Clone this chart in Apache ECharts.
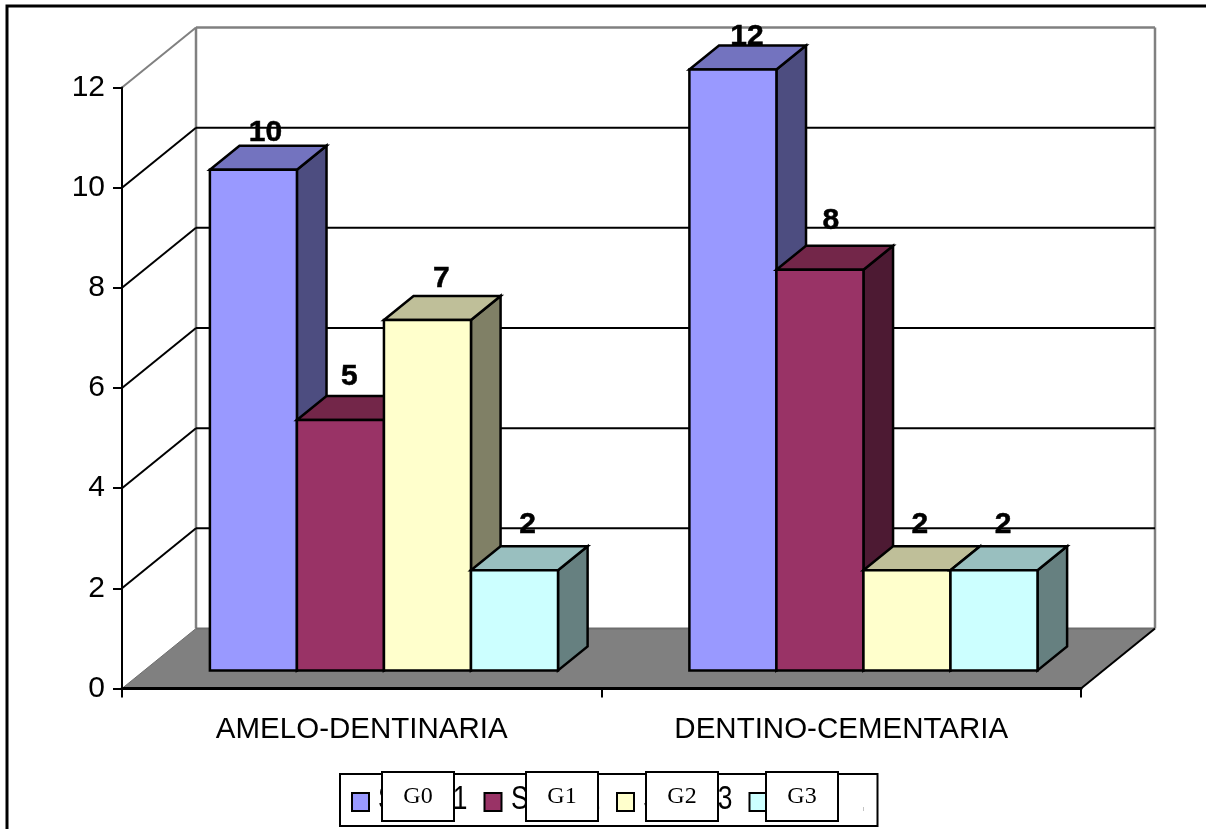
<!DOCTYPE html>
<html>
<head>
<meta charset="utf-8">
<title>G0-G3</title>
<script src="https://cdn.jsdelivr.net/npm/echarts@6/dist/echarts.min.js"></script>
<style>
html,body{margin:0;padding:0;background:#fff;overflow:hidden}
#chart{width:1206px;height:829px}
</style>
</head>
<body>
<div id="chart"></div>
<script>
// Values
const categories = ['AMELO-DENTINARIA', 'DENTINO-CEMENTARIA'];
const seriesNames = ['Series1', 'Series2', 'Series3', 'Series4'];
const groupNames = ['G0', 'G1', 'G2', 'G3'];
const g0Values = [10, 12];
const g1Values = [5, 8];
const g2Values = [7, 2];
const g3Values = [2, 2];
const valueTicks = [0, 2, 4, 6, 8, 10, 12];

// Colours: front, top and side faces of each box
const faces = [
  ['#9999ff', '#7373bf', '#4d4d80'],
  ['#993366', '#732649', '#4d1a33'],
  ['#ffffcc', '#bfbf99', '#808066'],
  ['#ccffff', '#99bfbf', '#668080']
];

// Fake-3D projection of the depth axis
const depthX = 74, depthY = -60;
const frontDepth = 0.3, backDepth = 0.7;
const barShare = 0.1815;

// Fine placement of value labels above each box (series, then category)
const labelRaise = [[13, 9], [19, 25], [17, 22], [22, 22]];
const labelNudge = [[12, 14], [9, 11], [14, 13], [13, 9]];

function poly(points, fill, stroke, width) {
  return { type: 'polygon', shape: { points }, style: { fill, stroke, lineWidth: width, lineJoin: 'miter' } };
}
function seg(a, b, color, width) {
  return { type: 'line', shape: { x1: a[0], y1: a[1], x2: b[0], y2: b[1] }, style: { stroke: color, lineWidth: width } };
}

// Walls, floor and gridlines of the box the chart stands in
function renderBackdrop(params, api) {
  const v = api.value(0);
  const left = api.coord([0, v]);
  const step = api.size([1, 0])[0];
  const a = [left[0] - step / 2, left[1]];
  const b = [a[0] + depthX, a[1] + depthY];
  const c = [b[0] + step * categories.length, b[1]];
  const edge = v === 0 || v === valueTicks[valueTicks.length - 1];
  const children = [];
  if (v === 0) {
    const d = [a[0] + step * categories.length, a[1]];
    const top = api.coord([0, valueTicks[valueTicks.length - 1]])[1] + depthY;
    children.push(poly([a, b, c, d], '#808080', null, 0));
    children.push(seg(b, [b[0], top], '#808080', 2.5));
    children.push(seg(c, [c[0], top], '#808080', 2.5));
    children.push(seg(b, c, '#6e6e6e', 2));
    children.push(seg(a, b, '#6e6e6e', 1));
    children.push(seg(d, c, '#000', 2));
  } else {
    children.push(seg(a, b, edge ? '#808080' : '#000', 2));
    children.push(seg(b, c, edge ? '#808080' : '#000', edge ? 2.5 : 2));
  }
  return { type: 'group', children };
}

// One box: front, top and side faces plus its value label
function renderBox(params, api) {
  const slot = params.seriesIndex - 1;
  const cat = api.value(0), v = api.value(1);
  const base = api.coord([cat, 0]);
  const head = api.coord([cat, v]);
  const w = api.size([1, 0])[0] * barShare;
  const x0 = base[0] + depthX * frontDepth + (slot - 2) * w;
  const x1 = x0 + w;
  const fy = depthY * frontDepth, by = depthY * backDepth;
  const dx = depthX * (backDepth - frontDepth), dy = depthY * (backDepth - frontDepth);
  const yB = base[1] + fy, yT = head[1] + fy;
  const f = faces[slot];
  return {
    type: 'group',
    children: [
      poly([[x1, yT], [x1 + dx, yT + dy], [x1 + dx, yB + dy], [x1, yB]], f[2], '#000', 2.5),
      poly([[x0, yT], [x0 + dx, yT + dy], [x1 + dx, yT + dy], [x1, yT]], f[1], '#000', 2.5),
      poly([[x0, yT], [x1, yT], [x1, yB], [x0, yB]], f[0], '#000', 2.5),
      {
        type: 'text',
        z2: 10,
        style: {
          text: String(v),
          x: (x0 + x1) / 2 + labelNudge[slot][cat],
          y: head[1] + by - labelRaise[slot][cat],
          font: 'bold 30px "Liberation Sans", Arial, sans-serif',
          fill: '#000',
          stroke: '#000',
          lineWidth: 0.5,
          align: 'center',
          verticalAlign: 'middle'
        }
      }
    ]
  };
}

const allValues = [g0Values, g1Values, g2Values, g3Values];

// Legend captions and the white tags laid over them
const captionLeft = [378, 511, 643, 775];
const tagBoxes = [[382, 454], [526, 598], [646, 718], [766, 838]];
const legendGraphics = [];
seriesNames.forEach((name, i) => {
  legendGraphics.push({
    type: 'text', z: 20, x: captionLeft[i], y: 783, scaleX: 0.8,
    style: { text: name, font: '33px "Liberation Sans", Arial, sans-serif', fill: '#000', textVerticalAlign: 'top' }
  });
});
legendGraphics.push({ type: 'rect', z: 21, shape: { x: 839, y: 776, width: 37, height: 48 }, style: { fill: '#fff' } });
legendGraphics.push({ type: 'rect', z: 22, shape: { x: 863, y: 807, width: 1, height: 4 }, style: { fill: '#c4c4c4' } });
groupNames.forEach((name, i) => {
  const [l, r] = tagBoxes[i];
  legendGraphics.push({
    type: 'rect', z: 23, shape: { x: l, y: 772, width: r - l, height: 49 },
    style: { fill: '#fff', stroke: '#000', lineWidth: 2 }
  });
  legendGraphics.push({
    type: 'text', z: 24, x: (l + r) / 2, y: 797,
    style: { text: name, font: '24px "Liberation Serif", "Times New Roman", serif', fill: '#000', align: 'center', verticalAlign: 'middle' }
  });
});

const chart = echarts.init(document.getElementById('chart'), null, { renderer: 'canvas' });
chart.setOption({
  animation: false,
  backgroundColor: '#fff',
  grid: { left: 122, top: 87.5, width: 959, height: 601, containLabel: false },
  xAxis: {
    type: 'category',
    data: categories,
    z: 5,
    axisLine: { lineStyle: { color: '#000', width: 3 } },
    axisTick: { show: true, length: 9, alignWithLabel: false, lineStyle: { color: '#000', width: 2 } },
    axisLabel: { color: '#000', fontSize: 29.5, fontFamily: '"Liberation Sans", Arial, sans-serif', margin: 26 },
    splitLine: { show: false }
  },
  yAxis: {
    type: 'value',
    min: 0,
    max: 12,
    interval: 2,
    z: 5,
    axisLine: { show: true, lineStyle: { color: '#000', width: 2 } },
    axisTick: { show: true, length: 9, lineStyle: { color: '#000', width: 2 } },
    axisLabel: { color: '#000', fontSize: 30, fontFamily: '"Liberation Sans", Arial, sans-serif', margin: 17, padding: [4, 0, 0, 0] },
    splitLine: { show: false }
  },
  legend: {
    show: true,
    left: 340,
    top: 774,
    orient: 'horizontal',
    padding: [18, 110, 14, 11],
    itemWidth: 17,
    itemHeight: 18,
    itemGap: 113.5,
    borderColor: '#000',
    borderWidth: 2,
    backgroundColor: '#fff',
    selectedMode: false,
    formatter: () => '',
    data: seriesNames.map((name, i) => ({
      name,
      icon: 'rect',
      itemStyle: { color: faces[i][0], borderColor: '#000', borderWidth: 2 }
    }))
  },
  series: [
    {
      type: 'custom',
      name: 'frame',
      z: 1,
      silent: true,
      renderItem: renderBackdrop,
      encode: { y: 0 },
      clip: false,
      data: valueTicks.map(v => [v])
    }
  ].concat(seriesNames.map((name, i) => ({
    type: 'custom',
    name,
    z: 2,
    renderItem: renderBox,
    clip: false,
    encode: { x: 0, y: 1 },
    itemStyle: { color: faces[i][0] },
    data: allValues[i].map((v, c) => [c, v])
  }))),
  graphic: [
    {
      type: 'rect',
      z: 0,
      silent: true,
      shape: { x: 7, y: 6, width: 1300, height: 900 },
      style: { fill: 'none', stroke: '#000', lineWidth: 3 }
    }
  ].concat(legendGraphics)
});
</script>
</body>
</html>
